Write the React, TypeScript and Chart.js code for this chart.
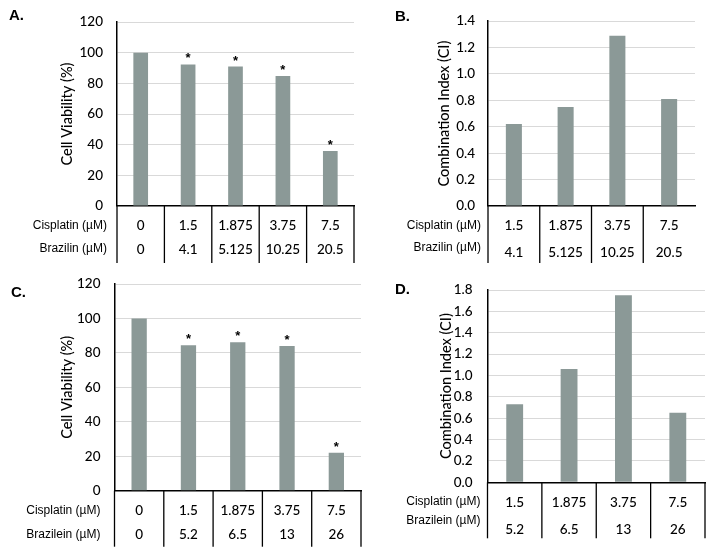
import React, { useEffect, useRef } from "react";
import { Chart, registerables } from "chart.js";

Chart.register(...registerables);

// ---------- DATA ----------
const cisplatinA = ["0", "1.5", "1.875", "3.75", "7.5"];
const brazilinA = ["0", "4.1", "5.125", "10.25", "20.5"];
const viabilityA = [100, 92.4, 91, 84.8, 35.9];
const significantA = [false, true, true, true, true];

const cisplatinB = ["1.5", "1.875", "3.75", "7.5"];
const brazilinB = ["4.1", "5.125", "10.25", "20.5"];
const ciB = [0.62, 0.75, 1.29, 0.81];

const cisplatinC = ["0", "1.5", "1.875", "3.75", "7.5"];
const brazileinC = ["0", "5.2", "6.5", "13", "26"];
const viabilityC = [100, 84.4, 86.2, 84, 22];
const significantC = [false, true, true, true, true];

const cisplatinD = ["1.5", "1.875", "3.75", "7.5"];
const brazileinD = ["5.2", "6.5", "13", "26"];
const ciD = [0.73, 1.06, 1.75, 0.65];

const viabilityTicks = [0, 20, 40, 60, 80, 100, 120];
const ciTicksB = [0, 0.2, 0.4, 0.6, 0.8, 1.0, 1.2, 1.4];
const ciTicksD = [0, 0.2, 0.4, 0.6, 0.8, 1.0, 1.2, 1.4, 1.6, 1.8];

// ---------- STYLE ----------
const W = 711;
const H = 551;
const BAR = "#8b9997";
const GRID = "#d9d9d9";
const NUM_FONT = "Lato, 'Noto Sans', sans-serif";
const LABEL_FONT = "'Liberation Sans', Arial, sans-serif";

const panelPlugin = {
  id: "panelTable",
  afterDraw(chart: any, _args: any, opts: any) {
    const { ctx, chartArea } = chart;
    const xs = chart.scales.x;
    const ys = chart.scales.y;
    const n = chart.data.labels.length;
    const bottom = chartArea.bottom;
    ctx.save();
    // table lines
    ctx.strokeStyle = "#000";
    ctx.lineWidth = 1.3;
    for (let i = 0; i <= n; i++) {
      let bx: number;
      if (i === 0) bx = chartArea.left;
      else if (i === n) {
        if (!opts.rightBorder) continue;
        bx = chartArea.right;
      } else bx = (xs.getPixelForValue(i - 1) + xs.getPixelForValue(i)) / 2;
      ctx.beginPath();
      ctx.moveTo(bx, bottom);
      ctx.lineTo(bx, bottom + opts.tableHeight);
      ctx.stroke();
    }
    // values
    ctx.fillStyle = "#000";
    ctx.textAlign = "center";
    ctx.textBaseline = "middle";
    ctx.font = `500 13.5px ${NUM_FONT}`;
    opts.rows.forEach((row: any) => {
      row.values.forEach((v: string, i: number) => {
        ctx.fillText(v, xs.getPixelForValue(i), bottom + row.valueOffset);
      });
    });
    // row labels
    ctx.textAlign = "right";
    ctx.font = `12px ${LABEL_FONT}`;
    opts.rows.forEach((row: any) => {
      ctx.fillText(row.label, chartArea.left - opts.labelGap, bottom + row.labelOffset);
    });
    // asterisks
    if (opts.sig) {
      ctx.textAlign = "center";
      ctx.textBaseline = "alphabetic";
      ctx.font = `bold 13px ${LABEL_FONT}`;
      const data = chart.data.datasets[0].data;
      opts.sig.forEach((s: boolean, i: number) => {
        if (!s) return;
        ctx.fillText("*", xs.getPixelForValue(i), ys.getPixelForValue(data[i]) - 2);
      });
    }
    // panel letter
    ctx.textAlign = "left";
    ctx.textBaseline = "middle";
    ctx.font = `bold 15px ${LABEL_FONT}`;
    ctx.fillText(opts.letter, opts.letterX, opts.letterY);
    ctx.restore();
  },
};

type PanelCfg = {
  values: number[];
  labels: string[];
  area: { left: number; top: number; right: number; bottom: number };
  yMax: number;
  yTicks: number[];
  decimals: number;
  title: string;
  titleX: number;
  tickPad: number;
  table: any;
};

function makeConfig(p: PanelCfg): any {
  const titleSize = 14.5;
  const lineH = titleSize * 1.2;
  return {
    type: "bar",
    data: {
      labels: p.labels,
      datasets: [
        {
          data: p.values,
          backgroundColor: BAR,
          borderWidth: 0,
          barPercentage: 0.31,
          categoryPercentage: 1,
        },
      ],
    },
    plugins: [panelPlugin],
    options: {
      responsive: false,
      animation: false,
      devicePixelRatio: 1,
      layout: {
        padding: {
          left: 0,
          top: p.area.top,
          right: W - p.area.right,
          bottom: H - p.area.bottom,
        },
      },
      plugins: {
        legend: { display: false },
        tooltip: { enabled: false },
        panelTable: p.table,
      },
      scales: {
        x: {
          type: "category",
          ticks: { display: false },
          grid: { display: true, drawOnChartArea: false, drawTicks: false },
          border: { display: true, color: "#000", width: 1.5 },
          afterFit: (s: any) => {
            s.height = 0;
          },
        },
        y: {
          min: 0,
          max: p.yMax,
          afterBuildTicks: (s: any) => {
            s.ticks = p.yTicks.map((v) => ({ value: v }));
          },
          ticks: {
            padding: p.tickPad,
            color: "#000",
            font: { family: NUM_FONT, size: 13.5, weight: "500" },
            callback: (v: any) => Number(v).toFixed(p.decimals),
          },
          grid: { color: GRID, lineWidth: 1, drawTicks: false },
          border: { display: true, color: "#000", width: 1.5 },
          title: {
            display: true,
            text: p.title,
            color: "#000",
            font: { family: NUM_FONT, size: titleSize, weight: "500" },
            padding: { top: p.titleX - lineH / 2, bottom: 0 },
          },
          afterFit: (s: any) => {
            s.width = p.area.left;
          },
        },
      },
    },
  };
}

const panels: PanelCfg[] = [
  {
    values: viabilityA,
    labels: cisplatinA,
    area: { left: 117, top: 10, right: 354, bottom: 206 },
    yMax: 120,
    yTicks: viabilityTicks,
    decimals: 0,
    title: "Cell Viability (%)",
    titleX: 67,
    tickPad: 14,
    table: {
      tableHeight: 57,
      rightBorder: true,
      labelGap: 10,
      sig: significantA,
      letter: "A.",
      letterX: 9,
      letterY: 16,
      rows: [
        { label: "Cisplatin (µM)", values: cisplatinA, valueOffset: 20, labelOffset: 20 },
        { label: "Brazilin (µM)", values: brazilinA, valueOffset: 44, labelOffset: 43 },
      ],
    },
  },
  {
    values: ciB,
    labels: cisplatinB,
    area: { left: 488, top: 18, right: 695, bottom: 206 },
    yMax: 1.4,
    yTicks: ciTicksB,
    decimals: 1,
    title: "Combination Index (CI)",
    titleX: 444,
    tickPad: 13,
    table: {
      tableHeight: 57,
      rightBorder: false,
      labelGap: 7,
      sig: null,
      letter: "B.",
      letterX: 395,
      letterY: 17,
      rows: [
        { label: "Cisplatin (µM)", values: cisplatinB, valueOffset: 20, labelOffset: 20 },
        { label: "Brazilin (µM)", values: brazilinB, valueOffset: 47, labelOffset: 42 },
      ],
    },
  },
  {
    values: viabilityC,
    labels: cisplatinC,
    area: { left: 114.5, top: 284, right: 361, bottom: 490.7 },
    yMax: 120,
    yTicks: viabilityTicks,
    decimals: 0,
    title: "Cell Viability (%)",
    titleX: 67,
    tickPad: 14,
    table: {
      tableHeight: 56,
      rightBorder: true,
      labelGap: 14,
      sig: significantC,
      letter: "C.",
      letterX: 11,
      letterY: 293,
      rows: [
        { label: "Cisplatin (µM)", values: cisplatinC, valueOffset: 19.5, labelOffset: 20 },
        { label: "Brazilein (µM)", values: brazileinC, valueOffset: 43.5, labelOffset: 43.5 },
      ],
    },
  },
  {
    values: ciD,
    labels: cisplatinD,
    area: { left: 487.5, top: 290, right: 705, bottom: 482.3 },
    yMax: 1.8,
    yTicks: ciTicksD,
    decimals: 1,
    title: "Combination Index (CI)",
    titleX: 446,
    tickPad: 15,
    table: {
      tableHeight: 56,
      rightBorder: true,
      labelGap: 7,
      sig: null,
      letter: "D.",
      letterX: 395,
      letterY: 290,
      rows: [
        { label: "Cisplatin (µM)", values: cisplatinD, valueOffset: 20, labelOffset: 19 },
        { label: "Brazilein (µM)", values: brazileinD, valueOffset: 47, labelOffset: 38.5 },
      ],
    },
  },
];

function Panel({ cfg }: { cfg: PanelCfg }) {
  const ref = useRef<HTMLCanvasElement | null>(null);
  useEffect(() => {
    if (!ref.current) return;
    const chart = new Chart(ref.current, makeConfig(cfg));
    return () => chart.destroy();
  }, [cfg]);
  return (
    <canvas
      ref={ref}
      width={W}
      height={H}
      style={{ position: "absolute", left: 0, top: 0, width: W, height: H }}
    />
  );
}

export default function App() {
  return (
    <div
      style={{
        position: "absolute",
        left: 0,
        top: 0,
        width: W,
        height: H,
        background: "#fff",
        overflow: "hidden",
      }}
    >
      {panels.map((p, i) => (
        <Panel key={i} cfg={p} />
      ))}
    </div>
  );
}
